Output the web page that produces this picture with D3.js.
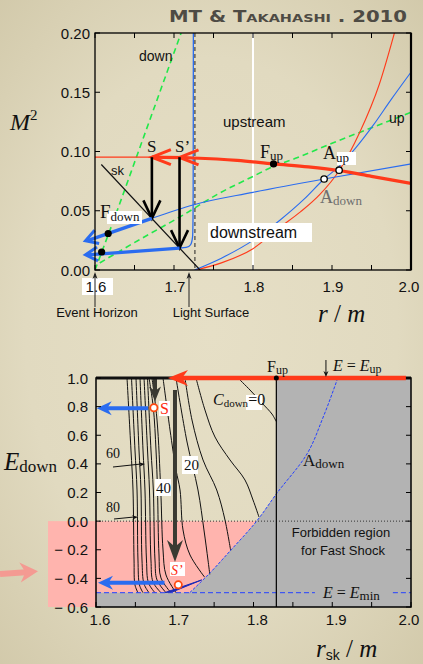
<!DOCTYPE html>
<html><head><meta charset="utf-8">
<script src="https://cdn.jsdelivr.net/npm/d3@7"></script>
<style>
html,body{margin:0;padding:0;}
body{width:423px;height:664px;overflow:hidden;background:radial-gradient(ellipse 80% 75% at 50% 50%, #e6dfc6 0%, #e1dac0 55%, #cfc6a6 100%);}
svg{display:block}
</style></head><body>
<svg id="c" width="423" height="664"></svg>
<script>
// ---------------- DATA ----------------
const topXTicks = [1.6, 1.7, 1.8, 1.9, 2.0];
const topYTicks = [0.00, 0.05, 0.10, 0.15, 0.20];
const botXTicks = [1.6, 1.7, 1.8, 1.9, 2.0];
const botYTicks = [1.0, 0.8, 0.6, 0.4, 0.2, 0.0, -0.2, -0.4, -0.6];

// top panel: (r/m, M^2)
const greenDown = [[1.600,0.000],[1.628,0.050],[1.655,0.100],[1.682,0.150],[1.709,0.200]];
const greenUp   = [[1.606,0.006],[1.660,0.027],[1.708,0.045],[1.758,0.065],[1.800,0.079],[1.826,0.0875],[1.853,0.094],[1.900,0.107],[1.950,0.120],[2.000,0.133]];
const redThin   = [[1.600,0.0952],[1.672,0.0952]];
const redThick  = [[1.672,0.0952],[1.724,0.0945],[1.780,0.0925],[1.826,0.0895],[1.870,0.0870],[1.910,0.0838],[1.950,0.0790],[2.000,0.0730]];
const redSteep  = [[1.728,0.000],[1.760,0.006],[1.800,0.018],[1.834,0.036],[1.860,0.049],[1.885,0.064],[1.909,0.0838],[1.935,0.116],[1.960,0.157],[1.979,0.200]];
const blueSteep = [[1.726,0.000],[1.760,0.010],[1.800,0.025],[1.834,0.042],[1.865,0.060],[1.890,0.0768],[1.909,0.0875],[1.930,0.103],[1.952,0.122],[1.975,0.144],[2.000,0.167]];
const blueDown  = [[1.672,0.0436],[1.724,0.0549],[1.800,0.0655],[1.890,0.0768],[2.000,0.0895]];
const blueSp    = [[1.707,0.0185],[1.716,0.0188],[1.7215,0.0205],[1.7238,0.027],[1.7243,0.040],[1.7245,0.200]];
const skLine    = [[1.608,0.089],[1.733,0.000]];
const arrowBlueUpper = [[1.672,0.0436],[1.588,0.0247]];
const arrowBlueLower = [[1.707,0.0185],[1.588,0.0128]];
const shockS  = {r:1.672, from:0.0952, to:0.0436};
const shockSp = {r:1.707, from:0.0952, to:0.0185};
const fDownDots = [[1.6167,0.0308],[1.6084,0.0152]];
const fUpDot = [1.826,0.0895];
const aUp = [1.909,0.0842];
const aDown = [1.890,0.0768];
const lightSurfaceR = 1.7265;
const whiteLineR = 1.8;
const eventHorizonR = 1.6;
const lightArrowR = 1.719;

// bottom panel: (r_sk/m, E_down)
const aDownBoundary = [[1.719,-0.5],[1.745,-0.36],[1.770,-0.21],[1.804,0.0],[1.829,0.19],[1.868,0.47],[1.888,0.72],[1.907,1.0]];
const fUpR = 1.829;
const eMin = -0.5;
const eUp = 1.0;
const contours = [
  [[1.6394,1],[1.6444,0.497],[1.6470,0.2175],[1.6483,-0.2716],[1.6495,-0.446],[1.6533,-0.5]],
  [[1.6451,1],[1.6495,0.497],[1.6521,0.2175],[1.6533,-0.2716],[1.6552,-0.446],[1.6597,-0.5]],
  [[1.6508,1],[1.6546,0.497],[1.6571,0.2175],[1.6584,-0.2716],[1.6610,-0.439],[1.6673,-0.5]],
  [[1.6559,1],[1.6597,0.497],[1.6622,0.2175],[1.6641,-0.2716],[1.6667,-0.432],[1.6749,-0.5]],
  [[1.6610,1],[1.6654,0.497],[1.6679,0.2175],[1.6698,-0.2716],[1.6724,-0.425],[1.6825,-0.5]],
  [[1.6654,1],[1.6698,0.497],[1.6728,0.2175],[1.6749,-0.2716],[1.6775,-0.411],[1.6889,-0.5]],
  [[1.6673,1],[1.6728,0.7925],[1.6762,0.497],[1.6781,0.2175],[1.6800,-0.2367],[1.6825,-0.397],[1.6952,-0.5]],
  [[1.6711,1],[1.6775,0.706],[1.6822,0.2175],[1.6851,-0.2017],[1.6889,-0.3764],[1.7016,-0.5]],
  [[1.6851,1],[1.6940,0.6367],[1.7016,0.3572],[1.7067,0.2175],[1.7105,-0.062],[1.7194,-0.2367],[1.7380,-0.392]],
  [[1.7016,1],[1.7156,0.5528],[1.7295,0.2175],[1.7371,-0.062],[1.7422,-0.2716],[1.7445,-0.372]],
  [[1.7130,1],[1.7219,0.7065],[1.7359,0.4271],[1.7533,0.2175],[1.7638,0.0079],[1.7710,-0.205]],
  [[1.7270,1],[1.7384,0.776],[1.7511,0.5878],[1.7702,0.4271],[1.7892,0.2873],[1.7994,0.1476],[1.8070,0.028]],
  [[1.7803,1],[1.7956,0.916],[1.8108,0.825],[1.8235,0.748],[1.8290,0.695]]
];
const sPoint = [1.6735,0.7925];
const spPoint = [1.7045,-0.445];
const darkArrowS = {r:1.6749, from:1.0, to:0.836};
const darkBar = {r:1.7003, from:0.916, to:-0.286};
const redTopArrow = {from:1.9935, to:1.6914, E:1.0};
const blueArrowS = {from:1.666, to:1.6009, E:0.788};
const blueArrowSp = {from:1.687, to:1.6025, E:-0.430};
const darkWedge = [[1.6880,-0.4985],[1.7342,-0.411],[1.6975,-0.4935]];
const eUpArrowR = 1.892;

// ---------------- DRAW ----------------
const svg = d3.select('#c');
const xT = d3.scaleLinear([1.6,2.0],[95,411]);
const yT = d3.scaleLinear([0,0.2],[270,33]);
const xB = d3.scaleLinear([1.6,2.0],[96,411]);
const yB = d3.scaleLinear([-0.6,1.0],[607,378]);

const SANS = '"Liberation Sans", Arial, Helvetica, sans-serif';
const SERIF = '"Liberation Serif", "Times New Roman", serif';
const RED = '#ff3a1a', BLUE = '#2a6cf0', GREEN = '#22e84a';

function chevron(g, tip, from, len, spread, color, w){
  const dx = from[0]-tip[0], dy = from[1]-tip[1];
  const L = Math.hypot(dx,dy), ux = dx/L, uy = dy/L;
  const px = -uy, py = ux;
  const p1 = [tip[0]+ux*len+px*spread, tip[1]+uy*len+py*spread];
  const p2 = [tip[0]+ux*len-px*spread, tip[1]+uy*len-py*spread];
  g.append('path').attr('d',`M${p1}L${tip}L${p2}`).attr('fill','none')
    .attr('stroke',color).attr('stroke-width',w).attr('stroke-linejoin','miter').attr('stroke-linecap','butt');
}
function filledHead(g, tip, from, len, half, color){
  const dx = from[0]-tip[0], dy = from[1]-tip[1];
  const L = Math.hypot(dx,dy), ux = dx/L, uy = dy/L;
  const px = -uy, py = ux;
  const b1 = [tip[0]+ux*len+px*half, tip[1]+uy*len+py*half];
  const b2 = [tip[0]+ux*len-px*half, tip[1]+uy*len-py*half];
  const n = [tip[0]+ux*len*0.7, tip[1]+uy*len*0.7];
  g.append('path').attr('d',`M${tip}L${b1}L${n}L${b2}Z`).attr('fill',color);
}

// ---- title ----
svg.append('text').attr('x',169).attr('y',22)
  .attr('font-family','"DejaVu Sans", sans-serif').attr('font-weight','bold')
  .attr('font-size',15).attr('fill','#4e4b44').style('font-variant','small-caps')
  .attr('textLength',238).attr('lengthAdjust','spacingAndGlyphs')
  .text('MT & Takahashi . 2010');

// ================= TOP PANEL =================
const gT = svg.append('g');
const lineT = d3.line().x(d=>xT(d[0])).y(d=>yT(d[1]));
const smoothT = d3.line().x(d=>xT(d[0])).y(d=>yT(d[1])).curve(d3.curveMonotoneX);
gT.append('defs').append('clipPath').attr('id','clipT').append('rect')
  .attr('x',xT(1.6)).attr('y',yT(0.2)).attr('width',xT(2)-xT(1.6)).attr('height',yT(0)-yT(0.2));
const gTc = gT.append('g').attr('clip-path','url(#clipT)');

gTc.append('line').attr('x1',xT(whiteLineR)).attr('x2',xT(whiteLineR)).attr('y1',yT(0.2)).attr('y2',yT(0))
  .attr('stroke','#ffffff').attr('stroke-width',2);
[greenDown, greenUp].forEach(d=>gTc.append('path').attr('d',smoothT(d)).attr('fill','none')
  .attr('stroke',GREEN).attr('stroke-width',1.6).attr('stroke-dasharray','6,4'));
gTc.append('line').attr('x1',xT(lightSurfaceR)).attr('x2',xT(lightSurfaceR)).attr('y1',yT(0.2)).attr('y2',yT(0))
  .attr('stroke','#222').attr('stroke-width',1).attr('stroke-dasharray','4,3');
gTc.append('path').attr('d',smoothT(redSteep)).attr('fill','none').attr('stroke',RED).attr('stroke-width',1.1);
gTc.append('path').attr('d',smoothT(blueSteep)).attr('fill','none').attr('stroke',BLUE).attr('stroke-width',1.1);
gTc.append('path').attr('d',smoothT(blueDown)).attr('fill','none').attr('stroke',BLUE).attr('stroke-width',1.1);
gTc.append('path').attr('d',d3.line().x(d=>xT(d[0])).y(d=>yT(d[1])).curve(d3.curveBasis)(blueSp))
  .attr('fill','none').attr('stroke',BLUE).attr('stroke-width',1.3);
gTc.append('path').attr('d',lineT(skLine)).attr('stroke','#111').attr('stroke-width',1.2);
gTc.append('path').attr('d',lineT(redThin)).attr('stroke',RED).attr('stroke-width',1.2);
gTc.append('path').attr('d',smoothT(redThick)).attr('fill','none').attr('stroke',RED).attr('stroke-width',3.2);
chevron(gT,[xT(shockS.r),yT(0.0952)],[xT(2),yT(0.0952)],19,7.5,RED,3);
chevron(gT,[xT(shockSp.r),yT(0.0950)],[xT(2),yT(0.0950)],19,7.5,RED,3);
[shockS, shockSp].forEach(s=>{
  const x = xT(s.r);
  gT.append('line').attr('x1',x).attr('x2',x).attr('y1',yT(s.from)).attr('y2',yT(s.to)-1)
    .attr('stroke','#000').attr('stroke-width',2.6);
  chevron(gT,[x,yT(s.to)],[x,yT(s.from)],18,8.5,'#000',2.6);
});
[arrowBlueUpper, arrowBlueLower].forEach(a=>{
  const p0=[xT(a[0][0]),yT(a[0][1])], p1=[xT(a[1][0]),yT(a[1][1])];
  gT.append('line').attr('x1',p0[0]).attr('y1',p0[1]).attr('x2',p1[0]+2).attr('y2',p1[1])
    .attr('stroke',BLUE).attr('stroke-width',3.4);
  chevron(gT,p1,p0,12,7,BLUE,3);
});
fDownDots.concat([fUpDot]).forEach(d=>gT.append('circle').attr('cx',xT(d[0])).attr('cy',yT(d[1])).attr('r',3.6).attr('fill','#000'));
[aUp,aDown].forEach(d=>gT.append('circle').attr('cx',xT(d[0])).attr('cy',yT(d[1])).attr('r',3.2)
  .attr('fill','#fff').attr('stroke','#000').attr('stroke-width',1.3));

gT.append('rect').attr('x',xT(1.6)).attr('y',yT(0.2)).attr('width',xT(2)-xT(1.6)).attr('height',yT(0)-yT(0.2))
  .attr('fill','none').attr('stroke','#000').attr('stroke-width',1.3);
gT.append('line').attr('x1',xT(2)).attr('x2',xT(2)).attr('y1',yT(0.2)).attr('y2',yT(0)).attr('stroke','#000').attr('stroke-width',2.2);
d3.range(1.6,2.0001,0.05).forEach(v=>{
  gT.append('line').attr('x1',xT(v)).attr('x2',xT(v)).attr('y1',yT(0)).attr('y2',yT(0)-5).attr('stroke','#000');
  gT.append('line').attr('x1',xT(v)).attr('x2',xT(v)).attr('y1',yT(0.2)).attr('y2',yT(0.2)+5).attr('stroke','#000');
});
topYTicks.forEach(v=>{
  gT.append('line').attr('x1',xT(1.6)).attr('x2',xT(1.6)+5).attr('y1',yT(v)).attr('y2',yT(v)).attr('stroke','#000');
  gT.append('line').attr('x1',xT(2)).attr('x2',xT(2)-5).attr('y1',yT(v)).attr('y2',yT(v)).attr('stroke','#000');
  gT.append('text').attr('x',xT(1.6)-5).attr('y',yT(v)+5.5).attr('text-anchor','end')
    .attr('font-family',SANS).attr('font-size',15).attr('fill','#111').text(v.toFixed(2));
});
gT.append('rect').attr('x',82).attr('y',278).attr('width',31).attr('height',17).attr('fill','#fff');
topXTicks.forEach(v=>{
  gT.append('text').attr('x',Math.min(xT(v)+1,409)).attr('y',yT(0)+22).attr('text-anchor','middle')
    .attr('font-family',SANS).attr('font-size',15).attr('fill','#111').text(v.toFixed(1));
});
[[eventHorizonR,'Event Horizon',97],[lightArrowR,'Light Surface',211]].forEach(([r,t,cx])=>{
  const x = xT(r);
  gT.append('line').attr('x1',x).attr('x2',x).attr('y1',yT(0)+4).attr('y2',yT(0)+37).attr('stroke','#222').attr('stroke-width',1);
  filledHead(gT,[x,yT(0)+2],[x,yT(0)+20],7,2.5,'#222');
  gT.append('text').attr('x',cx).attr('y',317).attr('text-anchor','middle')
    .attr('font-family',SANS).attr('font-size',13).attr('fill','#111').text(t);
});

function sub(g,x,y,main,subt,o){
  o=o||{};
  const t = g.append('text').attr('x',x).attr('y',y).attr('fill',o.fill||'#111');
  t.append('tspan').attr('font-family',o.mf||SERIF).attr('font-style',o.mi?'italic':null).attr('font-size',o.ms||17).text(main);
  t.append('tspan').attr('font-family',o.sf||SERIF).attr('font-size',o.ss||13).attr('dy',o.sdy||3).text(subt);
  return t;
}
{const t=svg.append('text').attr('x',10).attr('y',130).attr('fill','#111');
 t.append('tspan').attr('font-family',SERIF).attr('font-style','italic').attr('font-size',24).text('M');
 t.append('tspan').attr('font-family',SERIF).attr('font-size',15).attr('dy',-10).text('2');}
{const t=svg.append('text').attr('x',318).attr('y',322).attr('fill','#111').attr('font-family',SERIF).attr('font-size',25);
 t.append('tspan').attr('font-style','italic').text('r');
 t.append('tspan').text(' / ');
 t.append('tspan').attr('font-style','italic').text('m');}
gT.append('text').attr('x',139).attr('y',61).attr('font-family',SANS).attr('font-size',14).attr('fill','#111').text('down');
gT.append('text').attr('x',389).attr('y',123).attr('font-family',SANS).attr('font-size',14).attr('fill','#111').text('up');
gT.append('text').attr('x',223).attr('y',127).attr('font-family',SANS).attr('font-size',15).attr('fill','#111').text('upstream');
gT.append('rect').attr('x',208).attr('y',223).attr('width',104).attr('height',19).attr('fill','#fff');
gT.append('text').attr('x',210).attr('y',238).attr('font-family',SANS).attr('font-size',16).attr('fill','#111').text('downstream');
gT.append('text').attr('x',111).attr('y',175).attr('font-family',SANS).attr('font-size',13).attr('fill','#111').text('sk');
gT.append('text').attr('x',147).attr('y',152).attr('font-family',SERIF).attr('font-size',17).attr('fill','#111').text('S');
gT.append('text').attr('x',175).attr('y',152).attr('font-family',SERIF).attr('font-size',17).attr('fill','#111').text('S’');
sub(gT,260,158,'F','up',{ms:18,ss:13,sdy:2});
gT.append('rect').attr('x',337).attr('y',152).attr('width',19).attr('height',13).attr('fill','#fff');
sub(gT,323,159,'A','up',{ms:18,ss:13,sdy:3});
sub(gT,320,203,'A','down',{ms:18,ss:13,sdy:2,fill:'#6e6e6e'});
gT.append('rect').attr('x',107).attr('y',211).attr('width',35).attr('height',13).attr('fill','#fff');
sub(gT,100,218,'F','down',{ms:19,ss:13,sdy:3});

// ================= BOTTOM PANEL =================
const gB = svg.append('g');
const lineB = d3.line().x(d=>xB(d[0])).y(d=>yB(d[1]));
gB.append('defs').append('clipPath').attr('id','clipB').append('rect')
  .attr('x',xB(1.6)).attr('y',yB(1.0)).attr('width',xB(2)-xB(1.6)).attr('height',yB(-0.6)-yB(1.0));
const gBc = gB.append('g').attr('clip-path','url(#clipB)');
const boundaryLine = d3.line().x(d=>xB(d[0])).y(d=>yB(d[1])).curve(d3.curveMonotoneY);
const bSorted = aDownBoundary.slice();

gB.append('rect').attr('x',48).attr('y',yB(0)).attr('width',xB(1.6)-48).attr('height',yB(-0.6)-yB(0)).attr('fill','#ffb4ae');
const bLow = bSorted.filter(d=>d[1]<=0);
const pinkPath = 'M'+xB(1.6)+','+yB(0)+'L'+boundaryLine(bLow.slice().reverse()).slice(1)+'L'+xB(1.6)+','+yB(eMin)+'Z';
gBc.append('path').attr('d',pinkPath).attr('fill','#ffb4ae');
const grayPath = boundaryLine(bSorted)+'L'+xB(2.05)+','+yB(1.05)+'L'+xB(2.05)+','+yB(eMin)+'Z';
gBc.append('path').attr('d',grayPath).attr('fill','#b3b3b3');
gBc.append('rect').attr('x',xB(fUpR)).attr('y',yB(1.0)).attr('width',xB(2)-xB(fUpR)).attr('height',yB(-0.6)-yB(1.0)).attr('fill','#b3b3b3');
gBc.append('rect').attr('x',xB(1.6)).attr('y',yB(eMin)).attr('width',xB(2)-xB(1.6)).attr('height',yB(-0.6)-yB(eMin)).attr('fill','#b3b3b3');
gBc.append('line').attr('x1',xB(1.6)).attr('x2',xB(2)).attr('y1',yB(0)).attr('y2',yB(0))
  .attr('stroke','#333').attr('stroke-width',1).attr('stroke-dasharray','1,2');
const cLine = d3.line().x(d=>xB(d[0])).y(d=>yB(d[1])).curve(d3.curveCatmullRom.alpha(0.5));
contours.forEach(c=>gBc.append('path').attr('d',cLine(c)).attr('fill','none').attr('stroke','#111').attr('stroke-width',1));
gBc.append('path').attr('d',boundaryLine(bSorted)).attr('fill','none').attr('stroke','#2440ff').attr('stroke-width',1).attr('stroke-dasharray','3,1.5');
[[1.6,1.878],[1.977,2.0]].forEach(([a,b])=>gBc.append('line').attr('x1',xB(a)).attr('x2',xB(b)).attr('y1',yB(eMin)).attr('y2',yB(eMin))
  .attr('stroke','#2440ff').attr('stroke-width',1).attr('stroke-dasharray','5,3'));
gBc.append('line').attr('x1',xB(fUpR)).attr('x2',xB(fUpR)).attr('y1',yB(1)).attr('y2',yB(-0.6)).attr('stroke','#000').attr('stroke-width',1.2);
gBc.append('path').attr('d',lineB(darkWedge)+'Z').attr('fill','#1c2ab8').attr('stroke','#1c2ab8').attr('stroke-width',1);
{const x=xB(darkBar.r);
 gB.append('line').attr('x1',x).attr('x2',x).attr('y1',yB(darkBar.from)).attr('y2',yB(darkBar.to)-12).attr('stroke','#3a3a32').attr('stroke-width',4);
 filledHead(gB,[x,yB(darkBar.to)],[x,yB(darkBar.from)],22,8,'#3a3a32');}
{const x=xB(darkArrowS.r);
 gB.append('line').attr('x1',x).attr('x2',x).attr('y1',yB(darkArrowS.from)).attr('y2',yB(darkArrowS.to)-8).attr('stroke','#3a3a32').attr('stroke-width',4);
 filledHead(gB,[x,yB(darkArrowS.to)],[x,yB(darkArrowS.from)],15,6,'#3a3a32');}
[blueArrowS, blueArrowSp].forEach(a=>{
  const y=yB(a.E);
  gB.append('line').attr('x1',xB(a.from)).attr('x2',xB(a.to)+10).attr('y1',y).attr('y2',y).attr('stroke',BLUE).attr('stroke-width',4);
  filledHead(gB,[xB(a.to),y],[xB(a.from),y],15,7,BLUE);
});
gB.append('rect').attr('x',xB(1.6)).attr('y',yB(1)).attr('width',xB(2)-xB(1.6)).attr('height',yB(-0.6)-yB(1))
  .attr('fill','none').attr('stroke','#000').attr('stroke-width',1.5);
gB.append('line').attr('x1',xB(1.6)).attr('x2',xB(2)).attr('y1',yB(1)).attr('y2',yB(1)).attr('stroke','#111').attr('stroke-width',3);
{const y=yB(redTopArrow.E);
 gB.append('line').attr('x1',xB(redTopArrow.from)).attr('x2',xB(redTopArrow.to)+12).attr('y1',y).attr('y2',y).attr('stroke',RED).attr('stroke-width',4.5);
 filledHead(gB,[xB(redTopArrow.to),y],[xB(redTopArrow.from),y],20,8,RED);}
[sPoint,spPoint].forEach(p=>gB.append('circle').attr('cx',xB(p[0])).attr('cy',yB(p[1])).attr('r',3.6)
  .attr('fill','#fff').attr('stroke','#ff4a10').attr('stroke-width',1.8));
gB.append('circle').attr('cx',xB(fUpR)).attr('cy',yB(1)).attr('r',2.5).attr('fill','#000');
d3.range(1.6,2.0001,0.05).forEach(v=>{
  gB.append('line').attr('x1',xB(v)).attr('x2',xB(v)).attr('y1',yB(-0.6)).attr('y2',yB(-0.6)-5).attr('stroke','#000');
});
botYTicks.forEach(v=>{
  gB.append('line').attr('x1',xB(1.6)).attr('x2',xB(1.6)+5).attr('y1',yB(v)).attr('y2',yB(v)).attr('stroke','#000');
  gB.append('line').attr('x1',xB(2)).attr('x2',xB(2)-5).attr('y1',yB(v)).attr('y2',yB(v)).attr('stroke','#000');
  const lab = v<0 ? '− '+Math.abs(v).toFixed(1) : v.toFixed(1);
  gB.append('text').attr('x',xB(1.6)-8).attr('y',yB(v)+5.5).attr('text-anchor','end')
    .attr('font-family',SANS).attr('font-size',15).attr('fill','#111').text(lab);
});
botXTicks.forEach(v=>{
  gB.append('text').attr('x',Math.min(xB(v)+4,409)).attr('y',yB(-0.6)+18).attr('text-anchor','middle')
    .attr('font-family',SANS).attr('font-size',15).attr('fill','#111').text(v.toFixed(1));
});
{const tip=[xB(1.6)-58, yB(-0.35)], tail=[0, yB(-0.37)];
 gB.append('line').attr('x1',tail[0]).attr('y1',tail[1]).attr('x2',tip[0]-12).attr('y2',tip[1]+1).attr('stroke','#f49a92').attr('stroke-width',6);
 filledHead(gB,tip,tail,18,10,'#f49a92');}

{const t=svg.append('text').attr('x',4).attr('y',470).attr('fill','#111');
 t.append('tspan').attr('font-family',SERIF).attr('font-style','italic').attr('font-size',25).text('E');
 t.append('tspan').attr('font-family',SERIF).attr('font-size',17).attr('dy',2).text('down');}
{const t=svg.append('text').attr('x',316).attr('y',657).attr('fill','#111').attr('font-family',SERIF).attr('font-size',25);
 t.append('tspan').attr('font-style','italic').text('r');
 t.append('tspan').attr('font-family',SANS).attr('font-size',14).attr('dy',3).text('sk');
 t.append('tspan').attr('dy',-3).text(' / ');
 t.append('tspan').attr('font-style','italic').text('m');}
sub(gB,267,372,'F','up',{ms:16,ss:12,sdy:2});
{const t=gB.append('text').attr('x',333).attr('y',371).attr('fill','#111').attr('font-family',SERIF).attr('font-size',16);
 t.append('tspan').attr('font-style','italic').text('E');
 t.append('tspan').text(' = ');
 t.append('tspan').attr('font-style','italic').text('E');
 t.append('tspan').attr('font-size',12).attr('dy',2).text('up');}
{const x=xB(eUpArrowR);
 gB.append('line').attr('x1',x).attr('x2',x).attr('y1',360).attr('y2',yB(1)-4).attr('stroke','#111').attr('stroke-width',1);
 filledHead(gB,[x,yB(1)-1],[x,360],6,2.5,'#111');}
{const t=gB.append('text').attr('x',323).attr('y',598).attr('fill','#111').attr('font-family',SERIF).attr('font-size',16);
 t.append('tspan').attr('font-style','italic').text('E');
 t.append('tspan').text(' = ');
 t.append('tspan').attr('font-style','italic').text('E');
 t.append('tspan').attr('font-size',13).attr('dy',2).text('min');}
gB.append('text').attr('x',341).attr('y',537).attr('text-anchor','middle').attr('font-family',SANS).attr('font-size',13).attr('fill','#111').text('Forbidden region');
gB.append('text').attr('x',343).attr('y',555).attr('text-anchor','middle').attr('font-family',SANS).attr('font-size',13).attr('fill','#111').text('for Fast Shock');
sub(gB,303,466,'A','down',{ms:17,ss:13,sdy:2});
gB.append('rect').attr('x',246).attr('y',395).attr('width',16).attr('height',15).attr('fill','#fff');
{const t=gB.append('text').attr('x',213).attr('y',405).attr('fill','#111').attr('font-family',SERIF);
 t.append('tspan').attr('font-style','italic').attr('font-size',16).text('C');
 t.append('tspan').attr('font-size',11).attr('dy',2).text('down');
 t.append('tspan').attr('font-size',16).attr('dy',-2).text('=0');}
gB.append('rect').attr('x',182).attr('y',456).attr('width',16).attr('height',18).attr('fill','#fff');
gB.append('text').attr('x',184).attr('y',470).attr('font-family',SERIF).attr('font-size',15).attr('fill','#111').text('20');
gB.append('rect').attr('x',155).attr('y',479).attr('width',16).attr('height',17).attr('fill','#fff');
gB.append('text').attr('x',156).attr('y',493).attr('font-family',SERIF).attr('font-size',15).attr('fill','#111').text('40');
gB.append('text').attr('x',106).attr('y',458).attr('font-family',SERIF).attr('font-size',14).attr('fill','#111').text('60');
gB.append('text').attr('x',106).attr('y',512).attr('font-family',SERIF).attr('font-size',14).attr('fill','#111').text('80');
[[[113,467],[145,464]],[[114,519],[138,517]]].forEach(([a,b])=>{
  gB.append('line').attr('x1',a[0]).attr('y1',a[1]).attr('x2',b[0]-4).attr('y2',b[1]).attr('stroke','#111').attr('stroke-width',1);
  filledHead(gB,b,a,6,2.2,'#111');
});
gB.append('rect').attr('x',159).attr('y',401).attr('width',11).attr('height',15).attr('fill','#fff');
gB.append('text').attr('x',160).attr('y',414).attr('font-family',SERIF).attr('font-size',16).attr('fill','#ff2a10').text('S');
gB.append('rect').attr('x',170).attr('y',562).attr('width',15).attr('height',14).attr('fill','#fff');
gB.append('text').attr('x',171).attr('y',575).attr('font-family',SERIF).attr('font-style','italic').attr('font-size',14).attr('fill','#ff2a10').text('S’');
</script>
</body></html>
